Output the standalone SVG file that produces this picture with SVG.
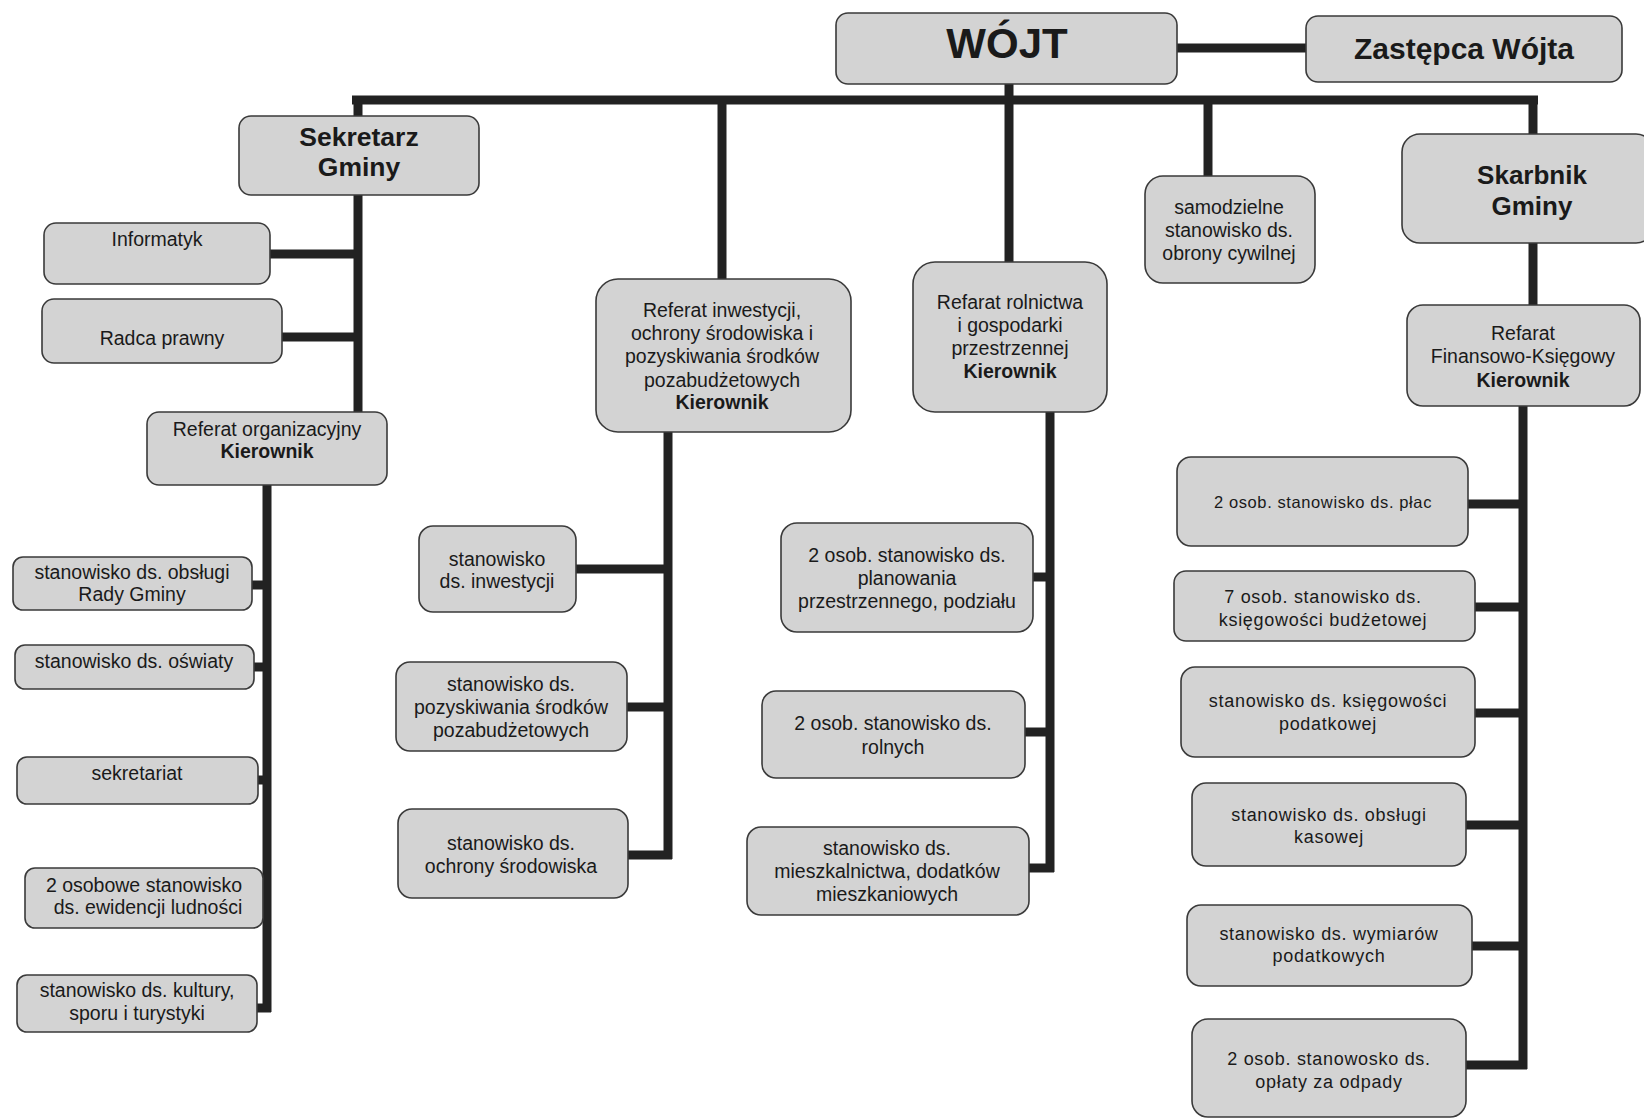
<svg xmlns="http://www.w3.org/2000/svg" width="1644" height="1119" viewBox="0 0 1644 1119">
<style>
.b{fill:#d3d3d3;stroke:#3a3a3a;stroke-width:1.6}
.t{font-family:"Liberation Sans",Arial,sans-serif;font-size:19.5px;fill:#1a1a1a;text-anchor:middle}
.w{font-size:18px;letter-spacing:0.7px}
.p{font-size:16.5px;letter-spacing:0.6px}
.k{font-weight:bold}
.h{font-family:"Liberation Sans",Arial,sans-serif;font-weight:bold;fill:#1a1a1a;text-anchor:middle}
.c{stroke:#222;stroke-width:9;fill:none;stroke-linecap:butt}
</style>
<rect width="1644" height="1119" fill="#ffffff"/>
<g id="connectors">
<line class="c" x1="1176" y1="48" x2="1306" y2="48"/>
<line class="c" x1="352" y1="100" x2="1538" y2="100"/>
<line class="c" x1="1009" y1="84" x2="1009" y2="262"/>
<line class="c" x1="358" y1="96" x2="358" y2="412"/>
<line class="c" x1="722" y1="100" x2="722" y2="279"/>
<line class="c" x1="1208" y1="100" x2="1208" y2="176"/>
<line class="c" x1="1533" y1="96" x2="1533" y2="134"/>
<line class="c" x1="270" y1="254" x2="358" y2="254"/>
<line class="c" x1="282" y1="337" x2="358" y2="337"/>
<line class="c" x1="267" y1="485" x2="267" y2="1012"/>
<line class="c" x1="252" y1="585" x2="267" y2="585"/>
<line class="c" x1="254" y1="667" x2="267" y2="667"/>
<line class="c" x1="258" y1="780" x2="267" y2="780"/>
<line class="c" x1="257" y1="1008" x2="271" y2="1008"/>
<line class="c" x1="668" y1="432" x2="668" y2="859"/>
<line class="c" x1="576" y1="569" x2="668" y2="569"/>
<line class="c" x1="627" y1="707" x2="668" y2="707"/>
<line class="c" x1="628" y1="855" x2="672" y2="855"/>
<line class="c" x1="1050" y1="412" x2="1050" y2="872"/>
<line class="c" x1="1033" y1="577" x2="1050" y2="577"/>
<line class="c" x1="1025" y1="732" x2="1050" y2="732"/>
<line class="c" x1="1029" y1="868" x2="1054" y2="868"/>
<line class="c" x1="1533" y1="243" x2="1533" y2="305"/>
<line class="c" x1="1523" y1="406" x2="1523" y2="1069"/>
<line class="c" x1="1468" y1="504" x2="1523" y2="504"/>
<line class="c" x1="1475" y1="607" x2="1523" y2="607"/>
<line class="c" x1="1475" y1="713" x2="1523" y2="713"/>
<line class="c" x1="1466" y1="825" x2="1523" y2="825"/>
<line class="c" x1="1472" y1="946" x2="1523" y2="946"/>
<line class="c" x1="1466" y1="1065" x2="1527" y2="1065"/>
</g>
<g id="wojt"><rect class="b" x="836" y="13" width="341" height="71" rx="12"/><text class="h" x="1007" y="58" font-size="42">WÓJT</text></g>
<g id="zastepca"><rect class="b" x="1306" y="16" width="316" height="66" rx="12"/><text class="h" x="1464" y="59" font-size="30">Zastępca Wójta</text></g>
<g id="sekretarz"><rect class="b" x="239" y="116" width="240" height="79" rx="12"/><text class="h" x="359" y="146" font-size="26.5">Sekretarz</text><text class="h" x="359" y="176" font-size="26.5">Gminy</text></g>
<g id="informatyk"><rect class="b" x="44" y="223" width="226" height="61" rx="12"/><text class="t" x="157" y="246">Informatyk</text></g>
<g id="radca"><rect class="b" x="42" y="299" width="240" height="64" rx="12"/><text class="t" x="162" y="345">Radca prawny</text></g>
<g id="ref-org"><rect class="b" x="147" y="412" width="240" height="73" rx="12"/><text class="t" x="267" y="436">Referat organizacyjny</text><text class="t k" x="267" y="458">Kierownik</text></g>
<g id="rada"><rect class="b" x="13" y="557" width="239" height="53" rx="10"/><text class="t" x="132" y="579">stanowisko ds. obsługi</text><text class="t" x="132" y="601">Rady Gminy</text></g>
<g id="oswiata"><rect class="b" x="15" y="645" width="239" height="44" rx="10"/><text class="t" x="134" y="668">stanowisko ds. oświaty</text></g>
<g id="sekretariat"><rect class="b" x="17" y="757" width="241" height="47" rx="10"/><text class="t" x="137" y="780">sekretariat</text></g>
<g id="ewidencja"><rect class="b" x="25" y="868" width="238" height="60" rx="10"/><text class="t" x="144" y="892">2 osobowe stanowisko</text><text class="t" x="148" y="914">ds. ewidencji ludności</text></g>
<g id="kultura"><rect class="b" x="17" y="975" width="240" height="57" rx="10"/><text class="t" x="137" y="997">stanowisko ds. kultury,</text><text class="t" x="137" y="1020">sporu i turystyki</text></g>
<g id="ref-inw"><rect class="b" x="596" y="279" width="255" height="153" rx="22"/><text class="t" x="722" y="317">Referat inwestycji,</text><text class="t" x="722" y="340">ochrony środowiska i</text><text class="t" x="722" y="363">pozyskiwania środków</text><text class="t" x="722" y="387">pozabudżetowych</text><text class="t k" x="722" y="409">Kierownik</text></g>
<g id="inwestycje"><rect class="b" x="419" y="526" width="157" height="86" rx="14"/><text class="t" x="497" y="566">stanowisko</text><text class="t" x="497" y="588">ds. inwestycji</text></g>
<g id="pozyskiwanie"><rect class="b" x="396" y="662" width="231" height="89" rx="14"/><text class="t" x="511" y="691">stanowisko ds.</text><text class="t" x="511" y="714">pozyskiwania środków</text><text class="t" x="511" y="737">pozabudżetowych</text></g>
<g id="ochrona"><rect class="b" x="398" y="809" width="230" height="89" rx="14"/><text class="t" x="511" y="850">stanowisko ds.</text><text class="t" x="511" y="873">ochrony środowiska</text></g>
<g id="ref-rol"><rect class="b" x="913" y="262" width="194" height="150" rx="22"/><text class="t" x="1010" y="309">Refarat rolnictwa</text><text class="t" x="1010" y="332">i gospodarki</text><text class="t" x="1010" y="355">przestrzennej</text><text class="t k" x="1010" y="378">Kierownik</text></g>
<g id="planowanie"><rect class="b" x="781" y="523" width="252" height="109" rx="16"/><text class="t" x="907" y="562">2 osob. stanowisko ds.</text><text class="t" x="907" y="585">planowania</text><text class="t" x="907" y="608">przestrzennego, podziału</text></g>
<g id="rolne"><rect class="b" x="762" y="691" width="263" height="87" rx="14"/><text class="t" x="893" y="730">2 osob. stanowisko ds.</text><text class="t" x="893" y="754">rolnych</text></g>
<g id="mieszkalnictwo"><rect class="b" x="747" y="827" width="282" height="88" rx="14"/><text class="t" x="887" y="855">stanowisko ds.</text><text class="t" x="887" y="878">mieszkalnictwa, dodatków</text><text class="t" x="887" y="901">mieszkaniowych</text></g>
<g id="obrona"><rect class="b" x="1145" y="176" width="170" height="107" rx="18"/><text class="t" x="1229" y="214">samodzielne</text><text class="t" x="1229" y="237">stanowisko ds.</text><text class="t" x="1229" y="260">obrony cywilnej</text></g>
<g id="skarbnik"><rect class="b" x="1402" y="134" width="252" height="109" rx="18"/><text class="h" x="1532" y="184" font-size="26">Skarbnik</text><text class="h" x="1532" y="215" font-size="26">Gminy</text></g>
<g id="ref-fin"><rect class="b" x="1407" y="305" width="233" height="101" rx="16"/><text class="t" x="1523" y="340">Refarat</text><text class="t" x="1523" y="363">Finansowo-Księgowy</text><text class="t k" x="1523" y="387">Kierownik</text></g>
<g id="place"><rect class="b" x="1177" y="457" width="291" height="89" rx="14"/><text class="t p" x="1323" y="508">2 osob. stanowisko ds. płac</text></g>
<g id="ksiegowosc-bud"><rect class="b" x="1174" y="571" width="301" height="70" rx="12"/><text class="t w" x="1323" y="603">7 osob. stanowisko ds.</text><text class="t w" x="1323" y="626">księgowości budżetowej</text></g>
<g id="ksiegowosc-pod"><rect class="b" x="1181" y="667" width="294" height="90" rx="14"/><text class="t w" x="1328" y="707">stanowisko ds. księgowości</text><text class="t w" x="1328" y="730">podatkowej</text></g>
<g id="kasa"><rect class="b" x="1192" y="783" width="274" height="83" rx="14"/><text class="t w" x="1329" y="821">stanowisko ds. obsługi</text><text class="t w" x="1329" y="843">kasowej</text></g>
<g id="wymiary"><rect class="b" x="1187" y="905" width="285" height="81" rx="14"/><text class="t w" x="1329" y="940">stanowisko ds. wymiarów</text><text class="t w" x="1329" y="962">podatkowych</text></g>
<g id="odpady"><rect class="b" x="1192" y="1019" width="274" height="98" rx="16"/><text class="t w" x="1329" y="1065">2 osob. stanowosko ds.</text><text class="t w" x="1329" y="1088">opłaty za odpady</text></g>
</svg>
